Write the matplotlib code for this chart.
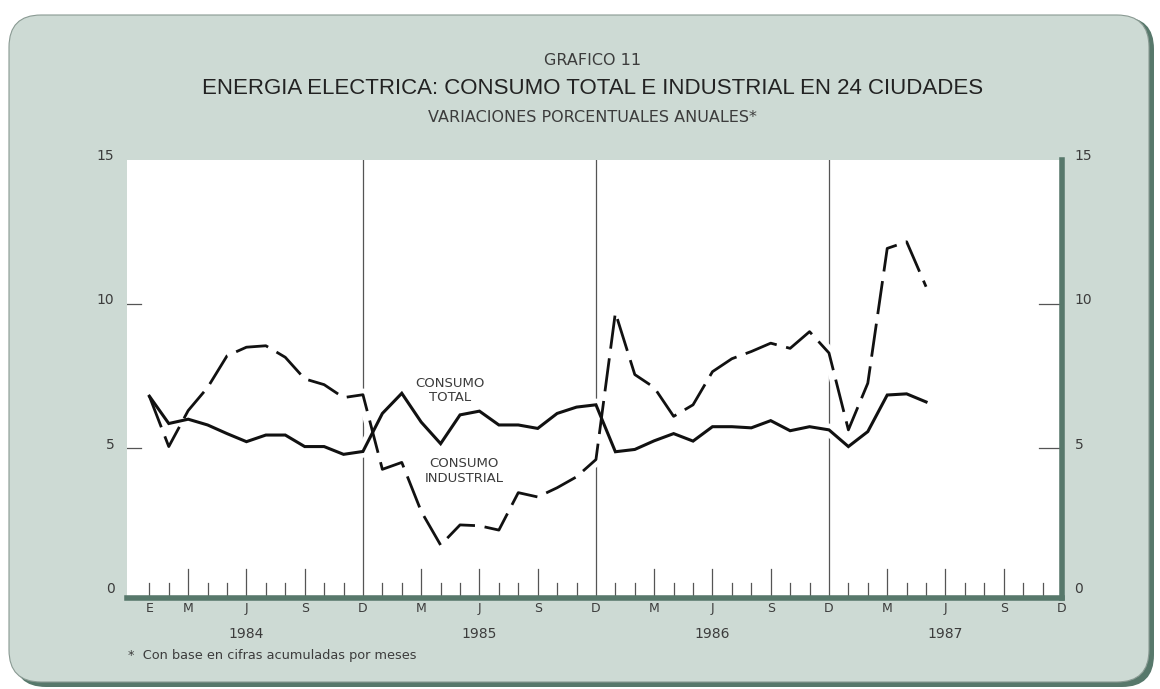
import numpy as np
import matplotlib
matplotlib.use("Agg")
import matplotlib.pyplot as plt
import matplotlib.transforms as mtransforms
from matplotlib.patches import FancyBboxPatch

plt.rcParams['font.family'] = ['DejaVu Sans']
plt.rcParams['lines.scale_dashes'] = False

# monthly values, Jan 1984 .. May 1987
months = np.arange(1, 42)
consumo_total = [6.8, 5.85, 6.0, 5.8, 5.5, 5.22, 5.45, 5.45, 5.05, 5.05, 4.78, 4.88,
                 6.2, 6.9, 5.9, 5.15, 6.15, 6.28, 5.8, 5.8, 5.68, 6.2, 6.42, 6.5,
                 4.87, 4.95, 5.25, 5.5, 5.24, 5.74, 5.74, 5.7, 5.95, 5.6, 5.74, 5.63,
                 5.05, 5.57, 6.84, 6.88, 6.6]
consumo_industrial = [6.8, 5.05, 6.3, 7.1, 8.2, 8.5, 8.55, 8.15, 7.4, 7.2, 6.75, 6.85,
                      4.26, 4.5, 2.8, 1.63, 2.33, 2.3, 2.15, 3.45, 3.3, 3.62, 4.0, 4.6,
                      9.7, 7.55, 7.1, 6.1, 6.5, 7.65, 8.1, 8.35, 8.64, 8.46, 9.04, 8.3,
                      5.63, 7.25, 11.93, 12.16, 10.6]

years = ["1984", "1985", "1986", "1987"]
month_letters = ["E", "M", "J", "S", "D"]
month_pos = [1, 3, 6, 9, 12]
long_ticks = [3, 6, 9]
y_ticks = [0, 5, 10, 15]

card = "#cddad4"
shadow = "#57786b"
ink = "#3c3c3c"

fig = plt.figure(figsize=(11.6, 6.89), dpi=100)
fig.patch.set_facecolor("white")

# card with darker shadow on the right and bottom
sh = FancyBboxPatch((0.14, 0.02), 11.40, 6.70, boxstyle="round,pad=0,rounding_size=0.32",
                    transform=fig.dpi_scale_trans, facecolor=shadow, edgecolor="none", zorder=-2)
cd = FancyBboxPatch((0.09, 0.07), 11.40, 6.67, boxstyle="round,pad=0,rounding_size=0.32",
                    transform=fig.dpi_scale_trans, facecolor=card, edgecolor="#8a9a93",
                    linewidth=0.8, zorder=-1)
fig.patches.extend([sh, cd])

ax = fig.add_axes([0.1095, 0.1324, 0.806, 0.6354])
ax.set_facecolor("white")
ax.set_xlim(-0.15, 48)
ax.set_ylim(-0.2, 15)

for s in ["left", "top"]:
    ax.spines[s].set_visible(False)
ax.spines["bottom"].set_color(shadow)
ax.spines["bottom"].set_linewidth(4)
ax.spines["right"].set_color(shadow)
ax.spines["right"].set_linewidth(4)

# year dividers
for k in range(1, 4):
    ax.axvline(12 * k, color="#555555", lw=0.9, zorder=1)

# month ticks drawn up from the bottom
xt = ax.get_xaxis_transform()
for m in range(1, 48):
    if m % 12 == 0:
        continue
    h = 0.066 if (m % 12) in long_ticks else 0.034
    ax.plot([m, m], [0, h], transform=xt, color="#555555", lw=0.9, zorder=1)

# y ticks inside on both sides
yt = ax.get_yaxis_transform()
for v in [5, 10]:
    ax.plot([0, 0.015], [v, v], transform=yt, color="#555555", lw=0.9, zorder=1)
    ax.plot([0.975, 1], [v, v], transform=yt, color="#555555", lw=0.9, zorder=1)

# white halos break the dividers where the curves cross them
ax.plot(months, consumo_total, color="white", lw=9, zorder=2)
ax.plot(months, consumo_industrial, color="white", lw=9, zorder=2)
ax.plot(months, consumo_total, color="#111111", lw=2.2, solid_joinstyle="miter", zorder=3)
ax.plot(months, consumo_industrial, color="#111111", lw=2.0, dashes=(24, 7), zorder=3)

# x labels: E only for the first year
pos, labs = [], []
for k in range(4):
    for p, l in zip(month_pos, month_letters):
        if k > 0 and l == "E":
            continue
        pos.append(12 * k + p)
        labs.append(l)
ax.set_xticks(pos)
ax.set_xticklabels(labs, fontsize=9, color=ink)
ax.tick_params(axis="x", length=0, pad=3)
for k, yr in enumerate(years):
    ax.text(12 * k + 6, -0.083, yr, transform=xt, ha="center", va="center",
            fontsize=10, color=ink)

# y labels on both sides, slightly raised
ax.set_yticks(y_ticks)
ax.set_yticklabels([str(v) for v in y_ticks], fontsize=10, color=ink)
ax.tick_params(axis="y", length=0, pad=9, labelright=True, labelleft=True)
off = mtransforms.ScaledTranslation(0, 5 / 100, fig.dpi_scale_trans)
for t in ax.yaxis.get_major_ticks():
    t.label1.set_transform(t.label1.get_transform() + off)
    t.label2.set_transform(t.label2.get_transform() + off)

ax.text(16.5, 7.0, "CONSUMO\nTOTAL", ha="center", va="center", fontsize=9.5,
        color=ink, linespacing=1.15)
ax.text(17.2, 4.2, "CONSUMO\nINDUSTRIAL", ha="center", va="center", fontsize=9.5,
        color=ink, linespacing=1.15)

fig.text(0.511, 0.912, "GRAFICO 11", ha="center", va="center", fontsize=11.5, color=ink)
fig.text(0.511, 0.871, "ENERGIA ELECTRICA: CONSUMO TOTAL E INDUSTRIAL EN 24 CIUDADES",
         ha="center", va="center", fontsize=16, color="#222222", family="Liberation Sans")
fig.text(0.511, 0.829, "VARIACIONES PORCENTUALES ANUALES*", ha="center", va="center",
         fontsize=11.5, color=ink)
fig.text(0.110, 0.049, "*  Con base en cifras acumuladas por meses", ha="left", va="center",
         fontsize=9.3, color=ink)

fig.savefig("out.png", dpi=100)
